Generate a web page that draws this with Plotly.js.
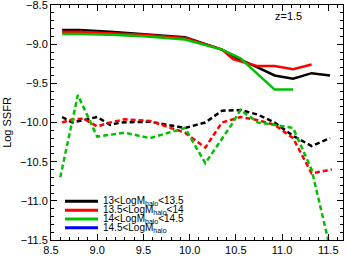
<!DOCTYPE html>
<html><head><meta charset="utf-8">
<script src="https://cdn.plot.ly/plotly-3.0.1.min.js"></script>
<style>html,body{margin:0;padding:0;background:#fff}</style>
</head><body>
<div id="chart" style="width:348px;height:258px"></div>
<script>
// Solid lines (upper group)
var xBlackSolid = [8.62, 8.81, 9.14, 9.5, 9.95, 10.35, 10.55, 10.69, 10.92, 11.12, 11.32, 11.52];
var yBlackSolid = [-8.82, -8.82, -8.84, -8.87, -8.91, -9.07, -9.2, -9.27, -9.4, -9.44, -9.37, -9.40];
var xRedSolid = [8.62, 8.81, 9.14, 9.5, 9.95, 10.35, 10.47, 10.55, 10.74, 10.92, 11.12, 11.32];
var yRedSolid = [-8.84, -8.84, -8.86, -8.88, -8.92, -9.07, -9.19, -9.22, -9.28, -9.28, -9.32, -9.26];
var xGreenSolid = [8.62, 8.81, 9.14, 9.5, 9.95, 10.35, 10.55, 10.92, 11.12];
var yGreenSolid = [-8.87, -8.87, -8.88, -8.9, -8.94, -9.07, -9.18, -9.58, -9.58];

// Dashed lines (lower group)
var xBlackDash = [8.62, 8.73, 8.85, 9.0, 9.14, 9.25, 9.57, 9.95, 10.17, 10.35, 10.55, 10.74, 10.92, 11.12, 11.32, 11.52];
var yBlackDash = [-9.93, -10.0, -9.97, -9.93, -10.03, -10.0, -9.99, -10.07, -10.0, -9.85, -9.84, -9.9, -10.0, -10.17, -10.3, -10.2];
var xRedDash = [8.62, 8.73, 8.85, 9.0, 9.14, 9.3, 9.57, 9.95, 10.17, 10.35, 10.55, 10.74, 10.92, 11.12, 11.32, 11.54];
var yRedDash = [-10.0, -9.96, -9.95, -10.05, -10.0, -9.96, -9.98, -10.13, -10.32, -10.0, -9.93, -9.97, -10.03, -10.2, -10.65, -10.6];
var xGreenDash = [8.6, 8.79, 9.0, 9.3, 9.57, 9.95, 10.17, 10.47, 10.55, 10.74, 10.92, 11.12, 11.32, 11.52];
var yGreenDash = [-10.7, -9.65, -10.18, -10.13, -10.2, -10.07, -10.52, -10.0, -9.84, -10.0, -10.03, -10.07, -10.6, -11.6];

var legendNames = ['13&lt;LogM<sub>halo</sub>&lt;13.5', '13.5&lt;LogM<sub>halo</sub>&lt;14', '14&lt;LogM<sub>halo</sub>&lt;14.5', '14.5&lt;LogM<sub>halo</sub>'];
var colors = ['#000000', '#ff0000', '#00c000', '#0000ff'];
var xTicks = [8.5, 9.0, 9.5, 10.0, 10.5, 11.0, 11.5];
var yTicks = [-8.5, -9.0, -9.5, -10.0, -10.5, -11.0, -11.5];

function tr(x, y, c, dash) {
  return {x: x, y: y, mode: 'lines', type: 'scatter', showlegend: false,
    line: {color: c, width: 2.5, dash: dash ? '5px,3px' : 'solid'}, hoverinfo: 'skip'};
}
var data = [
  tr(xBlackSolid, yBlackSolid, colors[0], false),
  tr(xRedSolid, yRedSolid, colors[1], false),
  tr(xGreenSolid, yGreenSolid, colors[2], false),
  tr(xBlackDash, yBlackDash, colors[0], true),
  tr(xRedDash, yRedDash, colors[1], true),
  tr(xGreenDash, yGreenDash, colors[2], true)
];

var shapes = [], annotations = [];
var rowY = [0.165, 0.127, 0.089, 0.052];
for (var i = 0; i < legendNames.length; i++) {
  shapes.push({type: 'line', xref: 'paper', yref: 'paper', x0: 0.048, x1: 0.161, y0: rowY[i], y1: rowY[i],
    line: {color: colors[i], width: 3}});
  annotations.push({xref: 'paper', yref: 'paper', x: 0.172, y: rowY[i], xanchor: 'left', yanchor: 'middle',
    text: legendNames[i], showarrow: false, font: {size: 10, color: '#000', family: 'Liberation Sans, Arial, sans-serif'}});
}
annotations.push({xref: 'paper', yref: 'paper', x: 0.815, y: 0.955, xanchor: 'center', yanchor: 'middle',
  text: 'z=1.5', showarrow: false, font: {size: 11, color: '#000', family: 'Liberation Sans, Arial, sans-serif'}});

var axisCommon = {showline: true, linecolor: '#000', linewidth: 1, mirror: 'allticks', ticks: 'inside',
  ticklen: 6, tickcolor: '#000', showgrid: false, zeroline: false, tickformat: '.1f',
  ticklabeloverflow: 'allow',
  tickfont: {size: 11, color: '#000', family: 'Liberation Sans, Arial, sans-serif'}};

var layout = {
  width: 348, height: 258,
  margin: {l: 51, r: 5, t: 5, b: 18},
  paper_bgcolor: '#fff', plot_bgcolor: '#fff',
  font: {family: 'Liberation Sans, Arial, sans-serif', color: '#000'},
  xaxis: Object.assign({}, axisCommon, {range: [8.5, 11.66], tickvals: xTicks,
    minor: {dtick: 0.1, ticks: 'inside', ticklen: 3, tickcolor: '#000', showgrid: false}}),
  yaxis: Object.assign({}, axisCommon, {range: [-11.5, -8.5], tickvals: yTicks,
    title: {text: 'Log SSFR', font: {size: 11, color: '#000'}, standoff: 6},
    minor: {dtick: 0.1, ticks: 'inside', ticklen: 3, tickcolor: '#000', showgrid: false}}),
  shapes: shapes,
  annotations: annotations,
  showlegend: false
};
Plotly.newPlot('chart', data, layout, {staticPlot: true, displayModeBar: false});
</script>
</body></html>
